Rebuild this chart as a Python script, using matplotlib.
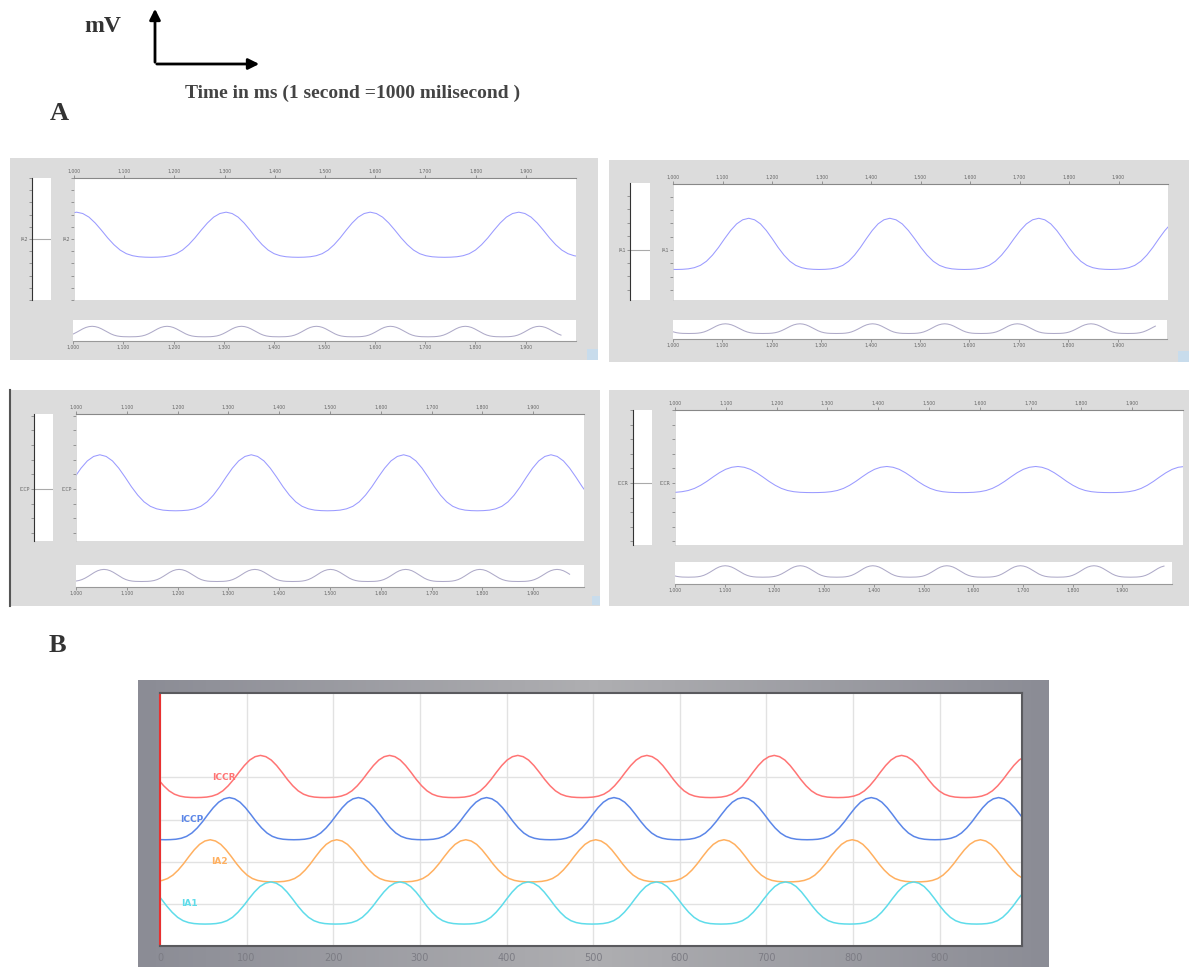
import numpy as np
import matplotlib
matplotlib.use('Agg')
import matplotlib.pyplot as plt

W, H = 1189, 967

# one half cycle of a pulse, peak -> trough
half_shape = [1.0, 0.97, 0.89, 0.76, 0.60, 0.43, 0.28, 0.16, 0.08, 0.035, 0.012, 0.003, 0.0]

# ---- panel B data (time in ms) ----
b_names = ['ICCR', 'ICCP', 'IA2', 'IA1']
b_colors = ['#ff7474', '#5b86e8', '#ffb060', '#5fdcea']
b_peaks = [
    [-33, 116, 265, 413, 562, 709, 856, 1004],
    [-68, 80, 229, 377, 524, 673, 821, 968, 1116],
    [-90, 58, 204, 353, 503, 651, 799, 947, 1095],
    [-24, 128, 277, 425, 573, 722, 870, 1015],
]
b_low = [3.52, 2.52, 1.52, 0.52]
b_high = [4.52, 3.52, 2.52, 1.52]
b_label_x = [74, 37, 69, 34]
b_label_y = [4.0, 3.0, 2.0, 1.0]
b_xticks = [0, 100, 200, 300, 400, 500, 600, 700, 800, 900]

# ---- panel A data ----
a_names = ['IA2', 'IA1', 'ICCP', 'ICCR']
a_main_peaks = [
    [710, 1005, 1303, 1590, 1886, 2180],
    [860, 1153, 1438, 1739, 2030],
    [750, 1047, 1345, 1645, 1935, 2230],
    [830, 1124, 1417, 1710, 2003],
]
a_main_low = [3.5, 1.54, 2.52, 4.34]
a_main_high = [7.2, 5.38, 6.34, 6.13]
a_ylim = [(0, 10), (-0.75, 7.95), (0.46, 9.12), (0.75, 10.0)]
a_label_tick = [5, 3, 4, 5]
a_over_peaks = [
    [890, 1038, 1187, 1335, 1484, 1631, 1780, 1927, 2075],
    [958, 1106, 1257, 1404, 1550, 1697, 1846, 1995],
    [907, 1055, 1203, 1352, 1501, 1649, 1795, 1947, 2095],
    [953, 1101, 1252, 1398, 1547, 1695, 1843, 1990],
]
a_over_low = [0.2, 0.29, 0.25, 0.31]
a_over_high = [0.7, 0.8, 0.8, 0.83]
a_over_end = [1974, 1980, 1974, 1988]
a_ticks = [1000, 1100, 1200, 1300, 1400, 1500, 1600, 1700, 1800, 1900]
a_tick_labels = ['1,000', '1,100', '1,200', '1,300', '1,400',
                 '1,500', '1,600', '1,700', '1,800', '1,900']

# panel geometry in picture pixels (x0, y0, x1, y1)
a_box = [(10, 158, 598, 360), (609, 160, 1189, 362), (10, 390, 600, 606), (609, 390, 1189, 606)]
a_strip = [(32, 178, 51, 300), (630, 183, 650, 300), (34, 414, 53, 541), (633, 410, 652, 545)]
a_main = [(74, 178, 576, 300), (673, 184, 1168, 300), (76, 414, 584, 541), (675, 410, 1183, 545)]
a_over = [(73, 320, 576, 341), (673, 320, 1167, 339), (76, 565, 584, 587), (675, 562, 1172, 584)]
a_square = [(587, 349, 598, 360), (1178, 351, 1189, 362), (592, 596, 600, 605), None]


def wave(peaks, low, high, t_end=None):
    t, v = [], []
    for p0, p1 in zip(peaks[:-1], peaks[1:]):
        for k in range(24):
            t.append(p0 + (p1 - p0) * k / 24)
            v.append(low + (high - low) * half_shape[min(k, 24 - k)])
    t.append(peaks[-1])
    v.append(high)
    t, v = np.array(t), np.array(v)
    if t_end is not None:
        keep = t <= t_end
        t, v = t[keep], v[keep]
    return t, v


fig = plt.figure(figsize=(W / 100, H / 100), dpi=100)
fig.patch.set_facecolor('white')


def px_axes(r, **kw):
    x0, y0, x1, y1 = r
    return fig.add_axes([x0 / W, 1 - y1 / H, (x1 - x0) / W, (y1 - y0) / H], **kw)


def bare(ax):
    ax.set_xticks([])
    ax.set_yticks([])
    for s in ax.spines.values():
        s.set_visible(False)


# overlay for the header text and arrows
ov = px_axes((0, 0, W, H))
ov.set_xlim(0, W)
ov.set_ylim(H, 0)
ov.axis('off')
serif = 'Liberation Serif'
ov.text(103, 27, 'mV', fontsize=17, fontweight='bold', family=serif, color='#333333',
        ha='center', va='center')
ov.annotate('', xy=(155, 6), xytext=(155, 65),
            arrowprops=dict(arrowstyle='-|>', lw=2, color='black', mutation_scale=16))
ov.annotate('', xy=(262, 64), xytext=(154, 64),
            arrowprops=dict(arrowstyle='-|>', lw=2, color='black', mutation_scale=16))
ov.text(353, 93, 'Time in ms (1 second =1000 milisecond )', fontsize=14, fontweight='bold',
        family=serif, color='#444444', ha='center', va='center')
ov.text(59, 114, 'A', fontsize=19, fontweight='bold', family=serif, color='#333333',
        ha='center', va='center')
ov.text(57, 646, 'B', fontsize=19, fontweight='bold', family=serif, color='#333333',
        ha='center', va='center')

tick_kw = dict(labelsize=3.3, labelcolor='#666666', color='#777777', length=2, width=0.5, pad=1)

for i in range(4):
    box = px_axes(a_box[i])
    box.set_facecolor('#dcdcdc')
    bare(box)
    if i == 2:
        box.spines['left'].set_visible(True)
        box.spines['left'].set_color('#555555')
        box.spines['left'].set_linewidth(1.5)

    lo, hi = a_ylim[i]
    yt = list(range(int(np.ceil(lo)), int(np.floor(hi)) + 1))
    ylabels = [a_names[i] if y == a_label_tick[i] else '' for y in yt]

    # left strip
    st = px_axes(a_strip[i])
    st.set_facecolor('white')
    st.set_ylim(lo, hi)
    st.set_xlim(0, 1)
    st.set_xticks([])
    for s in ['top', 'right', 'bottom']:
        st.spines[s].set_visible(False)
    st.spines['left'].set_linewidth(0.8)
    st.spines['left'].set_color('#333333')
    st.set_yticks(yt)
    st.set_yticklabels(ylabels)
    st.tick_params(axis='y', **tick_kw)
    st.axhline(a_label_tick[i], color='#aaaaaa', lw=0.8)

    # main trace
    ax = px_axes(a_main[i])
    ax.set_facecolor('white')
    t, v = wave(a_main_peaks[i], a_main_low[i], a_main_high[i])
    ax.plot(t, v, color='#9a9aff', lw=0.75)
    ax.set_xlim(1000, 2000)
    ax.set_ylim(lo, hi)
    for s in ['right', 'bottom']:
        ax.spines[s].set_visible(False)
    ax.spines['top'].set_color('#888888')
    ax.spines['top'].set_linewidth(0.8)
    ax.spines['left'].set_color('#cccccc')
    ax.spines['left'].set_linewidth(0.5)
    ax.xaxis.tick_top()
    ax.set_xticks(a_ticks)
    ax.set_xticklabels(a_tick_labels)
    ax.set_yticks(yt)
    ax.set_yticklabels(ylabels)
    ax.tick_params(**tick_kw)

    # overview strip
    ovw = px_axes(a_over[i])
    ovw.set_facecolor('white')
    t, v = wave(a_over_peaks[i], a_over_low[i], a_over_high[i], a_over_end[i])
    ovw.plot(t, v, color='#aeaac8', lw=0.75)
    ovw.set_xlim(1000, 2000)
    ovw.set_ylim(0, 1)
    for s in ['top', 'right', 'left']:
        ovw.spines[s].set_visible(False)
    ovw.spines['bottom'].set_color('#999999')
    ovw.spines['bottom'].set_linewidth(0.8)
    ovw.set_yticks([])
    ovw.set_xticks(a_ticks)
    ovw.set_xticklabels(a_tick_labels)
    ovw.tick_params(**tick_kw)

    if a_square[i] is not None:
        sq = px_axes(a_square[i])
        sq.set_facecolor('#c8dcec')
        bare(sq)

# ---- panel B ----
bg = px_axes((138, 680, 1049, 967))
grad = np.interp(np.linspace(0, 1, 200), [0, 0.5, 1], [0.0, 1.0, 0.0])
cmap = matplotlib.colors.LinearSegmentedColormap.from_list('bg', ['#8b8c95', '#aeaeb1'])
bg.imshow(grad[None, :], cmap=cmap, aspect='auto', extent=(0, 1, 0, 1))
bare(bg)

bx = px_axes((160, 693, 1022, 946))
bx.set_facecolor('white')
for name, col, pk, lo, hi, lx, ly in zip(b_names, b_colors, b_peaks, b_low, b_high,
                                         b_label_x, b_label_y):
    t, v = wave(pk, lo, hi)
    bx.plot(t, v, color=col, lw=1.1)
    bx.text(lx, ly, name, color=col, fontsize=6.5, fontweight='bold', ha='center', va='center')
bx.set_xlim(0, 995)
bx.set_ylim(0, 6)
bx.set_xticks(b_xticks)
bx.set_yticks([1, 2, 3, 4])
bx.set_yticklabels([])
bx.grid(True, color='#e2e2e2', lw=1)
bx.set_axisbelow(True)
bx.tick_params(axis='x', length=0, labelsize=7, labelcolor='#7c7c84', pad=5)
bx.tick_params(axis='y', length=0)
for s in ['top', 'right', 'bottom']:
    bx.spines[s].set_color('#5a5a5e')
    bx.spines[s].set_linewidth(1.5)
bx.spines['left'].set_color('#e83030')
bx.spines['left'].set_linewidth(1.5)

fig.savefig('out.png', dpi=100)
